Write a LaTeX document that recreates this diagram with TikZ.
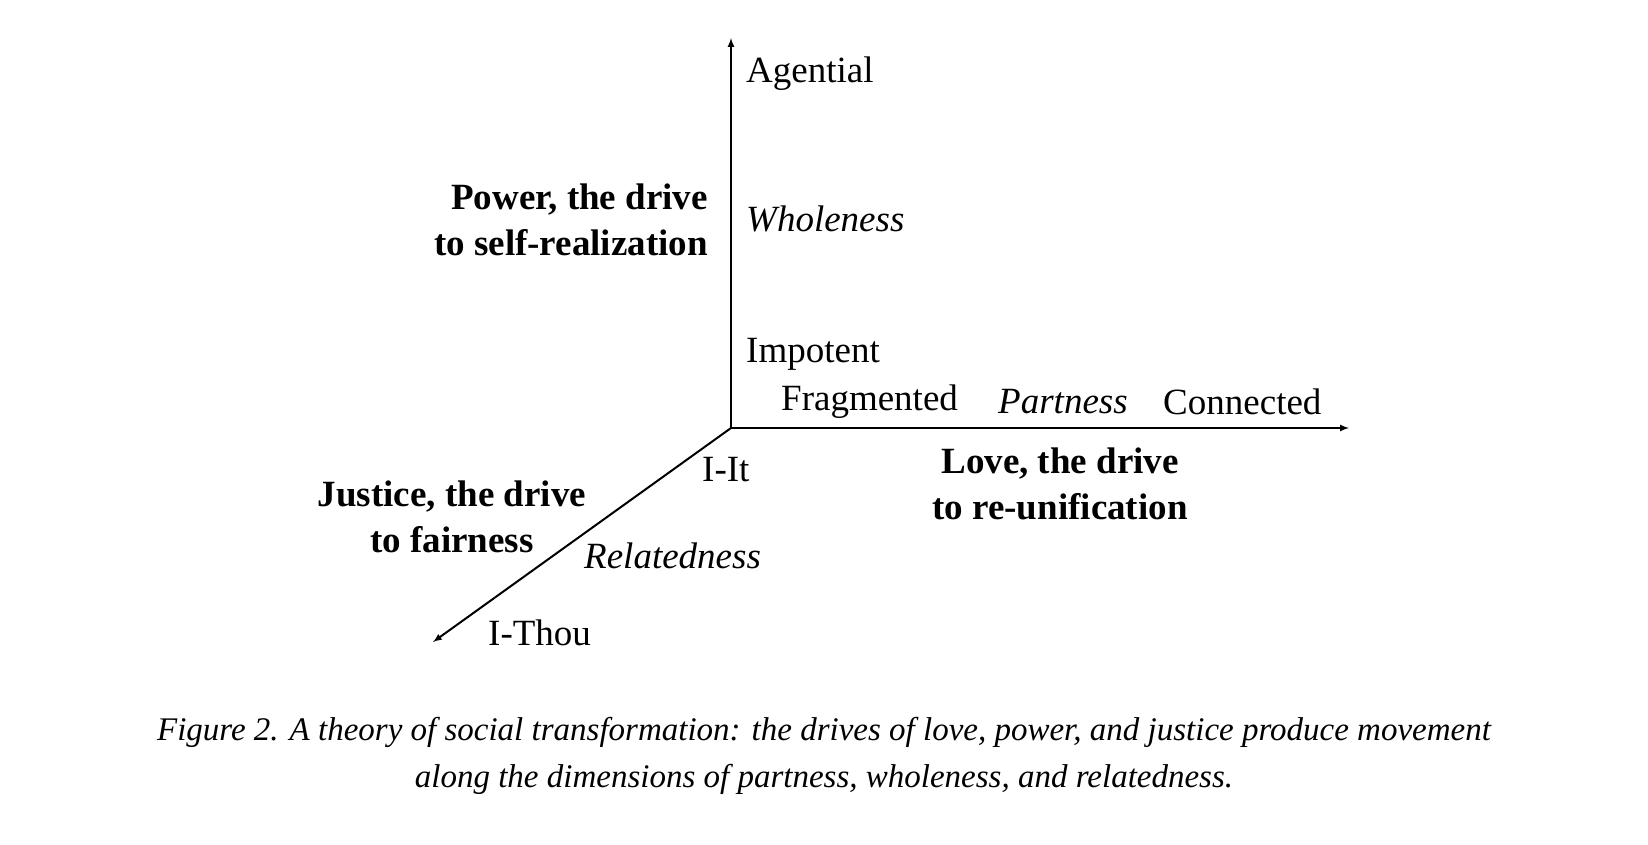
\documentclass[tikz,border=0pt]{standalone}
\usepackage{fontspec}
\setmainfont{Liberation Serif}
\begin{document}
\begin{tikzpicture}[x=1pt,y=-1pt,
  lab/.style={font=\fontsize{37}{40}\selectfont, inner sep=0pt},
  bl/.style={font=\fontsize{37}{46}\selectfont\bfseries, inner sep=0pt, align=center},
  capt/.style={font=\fontsize{33}{47}\selectfont\itshape, inner sep=0pt, align=center},
  ax/.style={line width=2pt,-latex}]
\useasboundingbox (0,0) rectangle (1648,844);
\coordinate (o) at (731,428);
\coordinate (up) at (731,38);
\coordinate (rt) at (1349,428);
\coordinate (dl) at (433,642);
\draw[ax] (o) -- (up);
\draw[ax] (o) -- (rt);
\draw[ax] (o) -- (dl);
\node[lab,anchor=west] (ag) at (746,74) {Agential};
\node[lab,anchor=west] (wh) at (746,219) {\itshape Wholeness};
\node[lab,anchor=west] (im) at (746,354) {Impotent};
\node[lab,anchor=west] (fr) at (781,402) {Fragmented};
\node[lab,anchor=west] (pa) at (998,402) {\itshape Partness};
\node[lab,anchor=west] (co) at (1163,402) {Connected};
\node[lab,anchor=west] (it) at (702,470) {I-It};
\node[lab,anchor=west] (re) at (584,556) {\itshape Relatedness};
\node[lab,anchor=west] (th) at (488,633) {I-Thou};
\node[bl,align=right,anchor=east] (pw) at (708,220) {Power, the drive\\to self-realization};
\node[bl] (lv) at (1060,484) {Love, the drive\\to re-unification};
\node[bl] (ju) at (452,517) {Justice, the drive\\to fairness};
\node[capt] (c) at (824,756) {Figure 2. A theory of social transformation: the drives of love, power, and justice produce movement\\along the dimensions of partness, wholeness, and relatedness.};
\end{tikzpicture}
\end{document}
